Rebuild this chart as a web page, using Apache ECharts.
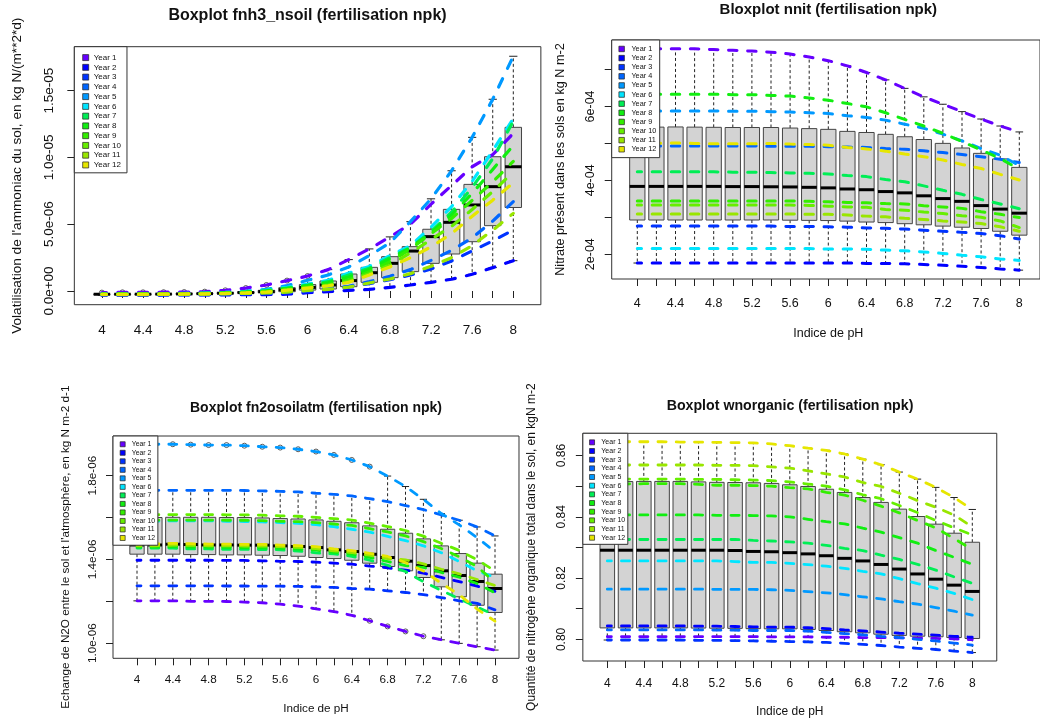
<!DOCTYPE html>
<html>
<head>
<meta charset="utf-8">
<script src="https://cdn.jsdelivr.net/npm/echarts@6/dist/echarts.min.js"></script>
<style>
html,body{margin:0;padding:0;background:#fff;}
#c{width:1040px;height:722px;}
</style>
</head>
<body>
<div id="c"></div>
<script>
// ---------- categories & legend ----------
const pH = ['4','4.2','4.4','4.6','4.8','5','5.2','5.4','5.6','5.8','6','6.2','6.4','6.6','6.8','7','7.2','7.4','7.6','7.8','8'];
const years = ['Year 1','Year 2','Year 3','Year 4','Year 5','Year 6','Year 7','Year 8','Year 9','Year 10','Year 11','Year 12'];
const yearColors = ['#6600FF','#0000FF','#0033FF','#0066FF','#0099FF','#00E5FF','#00EE55','#11EE11','#33EE00','#66EE00','#99E600','#E6E600'];

// ---------- panel 1 : fnh3_nsoil (values in 1e-6 kg N/(m2*d)), one row per year ----------
const fnh3 = [
 [-0.12,-0.10,-0.10,-0.09,-0.08,-0.05,0.05,0.22,0.45,0.78,1.12,1.60,2.35,3.15,4.05,5.00,6.50,7.90,9.30,10.20,11.80],
 [-0.31,-0.31,-0.305,-0.30,-0.295,-0.29,-0.285,-0.28,-0.27,-0.24,-0.13,-0.05,0.05,0.12,0.27,0.45,0.65,0.88,1.25,1.75,2.27],
 [-0.30,-0.30,-0.295,-0.29,-0.28,-0.27,-0.25,-0.23,-0.20,-0.15,-0.05,0.10,0.30,0.55,0.85,1.20,1.65,2.25,3.00,3.75,4.57],
 [-0.26,-0.26,-0.255,-0.25,-0.235,-0.225,-0.19,-0.16,-0.11,-0.02,0.10,0.18,0.35,0.70,1.10,1.60,2.29,3.04,3.98,5.23,6.69],
 [-0.215,-0.215,-0.21,-0.20,-0.18,-0.16,-0.10,-0.02,0.12,0.40,0.80,1.20,1.80,2.65,3.60,5.19,6.90,9.00,11.50,14.35,17.57],
 [-0.22,-0.22,-0.215,-0.21,-0.19,-0.165,-0.11,-0.04,0.07,0.28,0.52,0.80,1.34,1.84,2.64,3.39,4.79,6.32,8.21,10.50,12.90],
 [-0.225,-0.225,-0.22,-0.215,-0.195,-0.175,-0.13,-0.06,0.03,0.22,0.44,0.70,1.20,1.70,2.50,3.25,4.45,5.90,7.75,9.90,12.70],
 [-0.23,-0.23,-0.225,-0.22,-0.20,-0.18,-0.14,-0.08,0.00,0.20,0.40,0.62,1.05,1.60,2.40,3.20,4.35,5.70,7.30,9.10,10.90],
 [-0.24,-0.24,-0.235,-0.23,-0.215,-0.195,-0.165,-0.115,-0.04,0.11,0.29,0.48,0.84,1.44,2.19,3.13,4.29,5.43,6.78,8.17,9.70],
 [-0.245,-0.245,-0.24,-0.235,-0.22,-0.20,-0.17,-0.125,-0.06,0.09,0.25,0.42,0.72,1.30,1.95,2.85,3.85,4.85,6.10,7.45,8.90],
 [-0.27,-0.27,-0.265,-0.26,-0.245,-0.235,-0.21,-0.18,-0.15,-0.08,0.04,0.12,0.29,0.60,0.90,1.30,1.85,2.50,3.40,4.55,5.81],
 [-0.25,-0.25,-0.245,-0.24,-0.225,-0.21,-0.18,-0.14,-0.08,0.06,0.22,0.38,0.65,1.20,1.80,2.50,3.30,4.30,5.60,6.80,8.10]
];
const fnh3Ticks = [0,5,10,15];
const fnh3TickLabels = ['0.0e+00','5.0e-06','1.0e-05','1.5e-05'];

// ---------- panel 2 : nnit (values in 1e-4 kg N m-2) ----------
const nnit = [
 [7.56,7.56,7.56,7.56,7.54,7.52,7.50,7.47,7.42,7.34,7.24,7.10,6.92,6.72,6.49,6.26,6.06,5.86,5.66,5.47,5.31],
 [1.76,1.76,1.76,1.76,1.76,1.76,1.76,1.76,1.76,1.76,1.76,1.76,1.75,1.75,1.74,1.72,1.70,1.675,1.64,1.60,1.567],
 [2.76,2.76,2.76,2.76,2.76,2.76,2.76,2.76,2.75,2.75,2.74,2.73,2.71,2.70,2.68,2.65,2.62,2.59,2.56,2.50,2.41],
 [4.93,4.93,4.93,4.93,4.93,4.93,4.93,4.92,4.92,4.92,4.91,4.90,4.89,4.86,4.84,4.80,4.75,4.70,4.64,4.57,4.48],
 [5.88,5.88,5.88,5.88,5.88,5.87,5.87,5.86,5.85,5.83,5.81,5.75,5.70,5.63,5.52,5.41,5.25,5.07,4.86,4.68,4.40],
 [2.15,2.15,2.15,2.15,2.15,2.15,2.15,2.15,2.15,2.15,2.14,2.14,2.13,2.11,2.09,2.06,2.02,1.97,1.93,1.87,1.83],
 [4.23,4.23,4.23,4.23,4.23,4.22,4.22,4.21,4.20,4.19,4.17,4.13,4.10,4.02,3.96,3.85,3.73,3.62,3.48,3.36,3.23],
 [6.33,6.33,6.33,6.33,6.33,6.32,6.32,6.30,6.28,6.23,6.17,6.08,5.99,5.83,5.65,5.47,5.27,5.05,4.82,4.59,4.30],
 [3.44,3.44,3.44,3.44,3.44,3.44,3.44,3.44,3.44,3.43,3.42,3.40,3.39,3.37,3.36,3.31,3.28,3.24,3.15,3.08,2.99],
 [3.33,3.33,3.33,3.33,3.33,3.33,3.33,3.33,3.33,3.32,3.30,3.28,3.27,3.21,3.19,3.14,3.10,3.04,3.00,2.90,2.72],
 [3.09,3.09,3.09,3.09,3.09,3.09,3.09,3.09,3.09,3.08,3.08,3.06,3.03,3.01,2.97,2.94,2.90,2.87,2.83,2.74,2.62],
 [5.00,5.00,5.01,5.00,4.99,4.99,4.99,5.00,4.98,4.97,4.95,4.89,4.85,4.79,4.71,4.64,4.55,4.43,4.32,4.16,4.01]
];
const nnitTicks = [2,3,4,5,6,7];
const nnitTickLabels = ['2e-04','','4e-04','','6e-04',''];

// ---------- panel 3 : fn2osoilatm (values in 1e-6 kg N m-2 d-1) ----------
const fn2o = [
 [1.202,1.202,1.202,1.200,1.200,1.199,1.196,1.193,1.186,1.177,1.164,1.151,1.133,1.107,1.080,1.056,1.033,1.016,0.999,0.983,0.967],
 [1.396,1.396,1.396,1.396,1.396,1.395,1.395,1.393,1.391,1.390,1.387,1.382,1.377,1.368,1.360,1.349,1.334,1.314,1.294,1.272,1.247],
 [1.274,1.274,1.274,1.274,1.274,1.273,1.273,1.272,1.272,1.271,1.269,1.266,1.261,1.258,1.250,1.242,1.232,1.218,1.202,1.190,1.159],
 [1.730,1.730,1.730,1.730,1.730,1.730,1.729,1.727,1.725,1.722,1.716,1.711,1.703,1.690,1.676,1.657,1.638,1.612,1.587,1.555,1.512],
 [1.950,1.950,1.950,1.948,1.946,1.946,1.943,1.938,1.934,1.926,1.915,1.899,1.875,1.843,1.798,1.748,1.687,1.619,1.565,1.504,1.437],
 [1.582,1.582,1.584,1.584,1.584,1.582,1.581,1.579,1.576,1.572,1.566,1.556,1.544,1.530,1.510,1.490,1.465,1.432,1.390,1.345,1.314],
 [1.454,1.454,1.454,1.450,1.450,1.448,1.448,1.447,1.446,1.440,1.431,1.426,1.415,1.396,1.372,1.342,1.293,1.252,1.212,1.172,1.134],
 [1.460,1.460,1.461,1.459,1.458,1.457,1.456,1.455,1.453,1.449,1.444,1.434,1.425,1.410,1.390,1.370,1.362,1.338,1.315,1.285,1.240],
 [1.587,1.587,1.588,1.588,1.588,1.587,1.587,1.585,1.582,1.580,1.576,1.569,1.562,1.547,1.531,1.512,1.485,1.452,1.413,1.366,1.290],
 [1.613,1.613,1.614,1.614,1.614,1.613,1.613,1.611,1.608,1.606,1.601,1.595,1.588,1.573,1.557,1.538,1.511,1.477,1.443,1.398,1.345],
 [1.465,1.465,1.468,1.467,1.465,1.465,1.464,1.464,1.461,1.457,1.452,1.441,1.433,1.420,1.404,1.398,1.379,1.353,1.331,1.304,1.275],
 [1.473,1.473,1.477,1.475,1.473,1.473,1.472,1.472,1.468,1.466,1.461,1.450,1.442,1.429,1.414,1.385,1.345,1.286,1.231,1.163,1.105]
];
const fn2oTicks = [1.0,1.2,1.4,1.6,1.8];
const fn2oTickLabels = ['1.0e-06','','1.4e-06','','1.8e-06'];

// ---------- panel 4 : wnorganic (kgN m-2) ----------
const wnorg = [
 [0.8009,0.8009,0.8009,0.8009,0.8009,0.8009,0.8009,0.8009,0.8009,0.8008,0.8008,0.8008,0.8007,0.8007,0.8006,0.8006,0.8005,0.8004,0.8003,0.8002,0.7999],
 [0.8044,0.8044,0.8044,0.8044,0.8044,0.8043,0.8043,0.8042,0.8041,0.8040,0.8040,0.8038,0.8035,0.8031,0.8028,0.8024,0.8020,0.8017,0.8014,0.8010,0.8007],
 [0.7998,0.7998,0.7998,0.7998,0.7998,0.7997,0.7997,0.7996,0.7995,0.7994,0.7993,0.7992,0.7990,0.7987,0.7984,0.7980,0.7975,0.7971,0.7967,0.7962,0.7957],
 [0.8031,0.8031,0.8031,0.8031,0.8031,0.8031,0.8030,0.8030,0.8029,0.8029,0.8029,0.8027,0.8023,0.8019,0.8015,0.8010,0.8006,0.8000,0.7995,0.7988,0.7981],
 [0.8164,0.8164,0.8164,0.8164,0.8164,0.8164,0.8163,0.8163,0.8163,0.8162,0.8160,0.8156,0.8152,0.8146,0.8139,0.8132,0.8123,0.8115,0.8104,0.8092,0.8079],
 [0.8256,0.8256,0.8256,0.8256,0.8256,0.8256,0.8256,0.8254,0.8251,0.8251,0.8248,0.8244,0.8239,0.8232,0.8222,0.8214,0.8198,0.8182,0.8167,0.8150,0.8130],
 [0.8326,0.8326,0.8326,0.8326,0.8326,0.8326,0.8326,0.8326,0.8323,0.8321,0.8318,0.8314,0.8307,0.8297,0.8290,0.8275,0.8261,0.8245,0.8226,0.8204,0.8183],
 [0.8406,0.8406,0.8406,0.8406,0.8406,0.8406,0.8405,0.8405,0.8404,0.8403,0.8400,0.8392,0.8384,0.8377,0.8363,0.8350,0.8332,0.8314,0.8290,0.8268,0.8245],
 [0.8507,0.8507,0.8508,0.8508,0.8508,0.8506,0.8503,0.8503,0.8502,0.8500,0.8495,0.8491,0.8480,0.8471,0.8454,0.8435,0.8413,0.8388,0.8364,0.8329,0.8293],
 [0.8523,0.8523,0.8523,0.8523,0.8523,0.8522,0.8522,0.8521,0.8520,0.8518,0.8514,0.8507,0.8500,0.8488,0.8472,0.8459,0.8437,0.8414,0.8388,0.8364,0.8341],
 [0.8569,0.8569,0.8569,0.8569,0.8569,0.8569,0.8568,0.8568,0.8567,0.8563,0.8559,0.8550,0.8540,0.8530,0.8512,0.8499,0.8477,0.8453,0.8431,0.8406,0.8367],
 [0.8645,0.8645,0.8645,0.8645,0.8644,0.8644,0.8643,0.8642,0.8641,0.8638,0.8632,0.8624,0.8617,0.8605,0.8588,0.8570,0.8546,0.8523,0.8496,0.8463,0.8424]
];
const wnorgTicks = [0.80,0.81,0.82,0.83,0.84,0.85,0.86];
const wnorgTickLabels = ['0.80','','0.82','','0.84','','0.86'];

// ---------- layout (pixels) ----------
const FONT = '"Liberation Sans", Arial, Helvetica, sans-serif';
const panels = [
 {title:'Boxplot fnh3_nsoil (fertilisation npk)', data:fnh3, ticks:fnh3Ticks, tickLabels:fnh3TickLabels,
  yName:"Volatilisation de l'ammoniac du sol, en kg N/(m**2*d)", xName:'',
  x0:101.9, step:20.57, top:46.7, bottom:304.7, titleX:307.5, titleY:15, titleFs:16,
  fs:13.5, yNameFs:13.6, xLabelMargin:18.5, yLabelMargin:18, yNameGap:50.5, xNameGap:48,
  lg:{icon:6, fs:8, row:9.76, pad:[6,6,3,8], tp:0}, lw:3.2},
 {title:'Bloxplot nnit (fertilisation npk)', data:nnit, ticks:nnitTicks, tickLabels:nnitTickLabels,
  yName:'Nitrate présent dans les sols en kg N m-2', xName:'Indice de pH',
  x0:637.3, step:19.1, top:40, bottom:279, titleX:828.3, titleY:9.5, titleFs:15,
  fs:12.5, yNameFs:12.7, xLabelMargin:17.7, yLabelMargin:15, yNameGap:45, xNameGap:48,
  lg:{icon:5.5, fs:7.3, row:9.12, pad:[4.4,3.4,3.8,6.85], tp:2}, lw:3},
 {title:'Boxplot fn2osoilatm (fertilisation npk)', data:fn2o, ticks:fn2oTicks, tickLabels:fn2oTickLabels,
  yName:"Echange de N2O entre le sol et l'atmosphère, en kg N m-2 d-1", xName:'Indice de pH',
  x0:137, step:17.9, top:436, bottom:658.3, titleX:316, titleY:407.7, titleFs:14,
  fs:11.7, yNameFs:11.7, xLabelMargin:15.8, yLabelMargin:14, yNameGap:41, xNameGap:44,
  lg:{icon:5, fs:6.9, row:8.52, pad:[4,2.7,3,6.8], tp:1.5}, lw:2.8},
 {title:'Boxplot wnorganic (fertilisation npk)', data:wnorg, ticks:wnorgTicks, tickLabels:wnorgTickLabels,
  yName:'Quantité de nitrogène organique total dans le sol, en kgN m-2', xName:'Indice de pH',
  x0:607.3, step:18.25, top:433.3, bottom:661, titleX:790, titleY:405, titleFs:14.2,
  fs:12, yNameFs:12, xLabelMargin:16.3, yLabelMargin:15, yNameGap:45, xNameGap:44.7,
  lg:{icon:5, fs:7, row:8.67, pad:[4.7,2.6,2.3,6.35], tp:1.8}, lw:2.8}
];

// R boxplot.stats (Tukey hinges, 1.5 IQR whiskers)
function boxStats(vals){
  const x = vals.slice().sort((a,b)=>a-b), n = x.length;
  const n4 = Math.floor((n+3)/2)/2;
  const d = [1, n4, (n+1)/2, n+1-n4, n];
  const f = d.map(di => 0.5*(x[Math.floor(di)-1] + x[Math.ceil(di)-1]));
  const iqr = f[3]-f[1], lo = f[1]-1.5*iqr, hi = f[3]+1.5*iqr;
  const inside = x.filter(v => v>=lo && v<=hi);
  const out = x.filter(v => v<lo || v>hi);
  return {stats:[Math.min(...inside), f[1], f[2], f[3], Math.max(...inside)], out};
}

function renderBox(params, api){
  const i = api.value(0);
  const lo = api.coord([i, api.value(1)]);
  const q1 = api.coord([i, api.value(2)]);
  const md = api.coord([i, api.value(3)]);
  const q3 = api.coord([i, api.value(4)]);
  const hi = api.coord([i, api.value(5)]);
  const band = api.size([1,0])[0];
  const bw = band*0.8, cw = band*0.4, cx = md[0];
  const wStyle = {stroke:'#222', lineWidth:1, lineDash:[3,2.5]};
  return {type:'group', children:[
    {type:'line', shape:{x1:cx,y1:q3[1],x2:cx,y2:hi[1]}, style:wStyle},
    {type:'line', shape:{x1:cx,y1:q1[1],x2:cx,y2:lo[1]}, style:wStyle},
    {type:'line', shape:{x1:cx-cw/2,y1:hi[1],x2:cx+cw/2,y2:hi[1]}, style:{stroke:'#222',lineWidth:1}},
    {type:'line', shape:{x1:cx-cw/2,y1:lo[1],x2:cx+cw/2,y2:lo[1]}, style:{stroke:'#222',lineWidth:1}},
    {type:'rect', shape:{x:cx-bw/2,y:q3[1],width:bw,height:q1[1]-q3[1]}, style:{fill:'#d3d3d3',stroke:'#444',lineWidth:1}},
    {type:'line', shape:{x1:cx-bw/2,y1:md[1],x2:cx+bw/2,y2:md[1]}, style:{stroke:'#000',lineWidth:3}}
  ]};
}

const option = {animation:false, backgroundColor:'#fff', textStyle:{fontFamily:FONT},
  title:[], grid:[], xAxis:[], yAxis:[], legend:[], series:[]};

panels.forEach((p, k) => {
  const frameLeft = p.x0 - 1.34*p.step, frameW = 22.68*p.step;
  const innerLeft = p.x0 - 0.5*p.step, innerW = 21*p.step;
  const all = p.data.flat();
  const dmin = Math.min(...all), dmax = Math.max(...all), pad = 0.04*(dmax-dmin);
  const ymin = dmin-pad, ymax = dmax+pad, h = p.bottom-p.top;
  const gA = 2*k, gB = 2*k+1;

  option.title.push({text:p.title, left:p.titleX, top:p.titleY - p.titleFs*0.45, textAlign:'center', padding:0,
    textStyle:{fontSize:p.titleFs, fontWeight:'bold', color:'#111', fontFamily:FONT}});

  option.grid.push({left:frameLeft, top:p.top, width:frameW, height:h, show:true, borderColor:'#333', borderWidth:1, backgroundColor:'rgba(0,0,0,0)'});
  option.grid.push({left:innerLeft, top:p.top, width:innerW, height:h, show:false});

  option.xAxis.push({gridIndex:gA, type:'value', min:0, max:1, show:false});
  option.xAxis.push({gridIndex:gB, type:'category', data:pH, boundaryGap:true,
    axisLine:{show:false},
    axisTick:{show:true, interval:0, alignWithLabel:true, length:7, lineStyle:{color:'#222'}},
    axisLabel:{interval:1, fontSize:p.fs, margin:p.xLabelMargin, color:'#111', fontFamily:FONT},
    splitLine:{show:false},
    name:p.xName, nameLocation:'middle', nameGap:p.xNameGap, nameTextStyle:{fontSize:p.fs, color:'#111', fontFamily:FONT}});

  option.yAxis.push({gridIndex:gA, type:'value', min:ymin, max:ymax,
    axisLine:{show:false},
    axisTick:{show:true, length:7, customValues:p.ticks, lineStyle:{color:'#222'}},
    axisLabel:{customValues:p.ticks, rotate:90, fontSize:p.fs, margin:p.yLabelMargin, color:'#111', fontFamily:FONT,
      formatter:(v)=>{ const j = p.ticks.findIndex(t => Math.abs(t-v) < 1e-9); return j>=0 ? p.tickLabels[j] : ''; }},
    splitLine:{show:false},
    name:p.yName, nameLocation:'middle', nameRotate:90, nameGap:p.yNameGap,
    nameTextStyle:{fontSize:p.yNameFs, color:'#111', fontFamily:FONT}});
  option.yAxis.push({gridIndex:gB, type:'value', min:ymin, max:ymax, show:false});

  // boxplot data built from the yearly values
  const boxData = [], outData = [];
  pH.forEach((c, i) => {
    const r = boxStats(p.data.map(row => row[i]));
    boxData.push([i, ...r.stats]);
    r.out.forEach(v => outData.push([i, v]));
  });
  option.series.push({type:'custom', name:'box'+k, xAxisIndex:gB, yAxisIndex:gB, renderItem:renderBox,
    data:boxData, encode:{x:0, y:[1,2,3,4,5]}, z:2, silent:true, clip:false});
  option.series.push({type:'scatter', name:'out'+k, xAxisIndex:gB, yAxisIndex:gB, data:outData,
    symbol:'circle', symbolSize:5, z:2, silent:true,
    itemStyle:{color:'rgba(255,255,255,0)', borderColor:'#333', borderWidth:1}});

  const vis = 0.6*p.step, dash = vis - p.lw, gap = p.step - dash;
  p.data.forEach((row, y) => {
    option.series.push({type:'line', name:years[y], xAxisIndex:gB, yAxisIndex:gB, data:row,
      symbol:'none', z:3, silent:true, color:yearColors[y],
      lineStyle:{color:yearColors[y], width:p.lw, type:[dash, gap], dashOffset:dash/2, cap:'round'}});
  });

  option.legend.push({left:frameLeft, top:p.top, orient:'vertical', data:years, icon:'rect',
    itemWidth:p.lg.icon, itemHeight:p.lg.icon, itemGap:0, padding:p.lg.pad,
    backgroundColor:'#fff', borderColor:'#333', borderWidth:1, borderRadius:0, selectedMode:false, z:10,
    itemStyle:{borderColor:'#222', borderWidth:0.7},
    textStyle:{fontSize:p.lg.fs, lineHeight:p.lg.row, color:'#111', fontFamily:FONT, padding:[0,0,0,p.lg.tp]}});
});

const chart = echarts.init(document.getElementById('c'), null, {renderer:'canvas', width:1040, height:722});
chart.setOption(option);
</script>
</body>
</html>
